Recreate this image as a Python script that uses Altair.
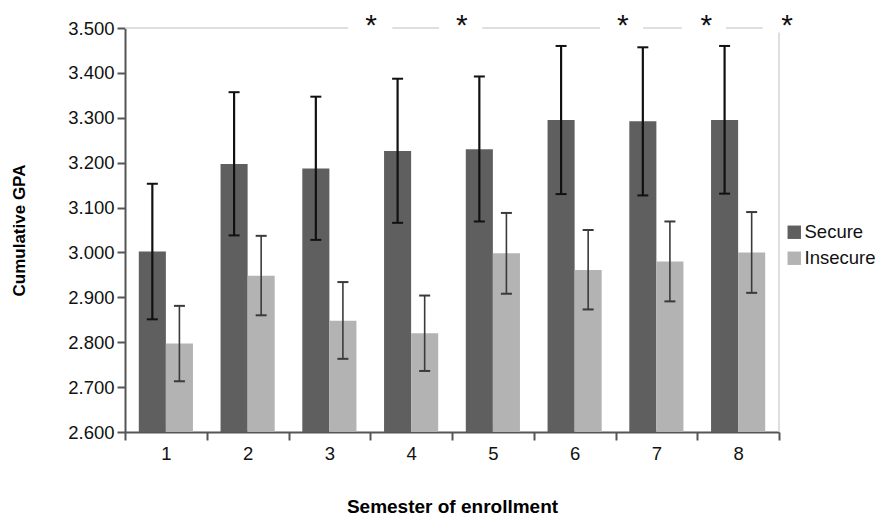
import altair as alt
import pandas as pd

semesters = ["1", "2", "3", "4", "5", "6", "7", "8"]
groups = ["Secure", "Insecure"]
secure_mean = [3.002, 3.197, 3.187, 3.226, 3.230, 3.295, 3.292, 3.295]
secure_lo = [2.851, 3.038, 3.028, 3.066, 3.069, 3.130, 3.127, 3.131]
secure_hi = [3.153, 3.357, 3.347, 3.387, 3.392, 3.460, 3.457, 3.460]
insecure_mean = [2.797, 2.948, 2.848, 2.820, 2.998, 2.961, 2.980, 3.000]
insecure_lo = [2.713, 2.860, 2.763, 2.736, 2.908, 2.873, 2.891, 2.910]
insecure_hi = [2.881, 3.037, 2.934, 2.904, 3.088, 3.050, 3.069, 3.090]

# significance markers (in semester units, 0.5 = left edge, 8.5 = right edge)
star_pos = [3.51, 4.62, 6.59, 7.61, 8.60]
line_start = [0.5, 3.77, 4.87, 6.84, 7.85]
line_end = [3.23, 4.34, 6.31, 7.31, 8.30]
edge_x = [8.5]

rows = []
for i, s in enumerate(semesters):
    rows.append(dict(semester=s, group="Secure", mean=secure_mean[i], lo=secure_lo[i], hi=secure_hi[i]))
    rows.append(dict(semester=s, group="Insecure", mean=insecure_mean[i], lo=insecure_lo[i], hi=insecure_hi[i]))
df = pd.DataFrame(rows)
stars = pd.DataFrame({"x": star_pos, "t": ["*"] * len(star_pos), "y": [3.5] * len(star_pos)})
segs = pd.DataFrame({"a": line_start, "b": line_end, "y": [3.5] * len(line_start)})
edge = pd.DataFrame({"x": edge_x, "y1": [3.49], "y2": [2.6]})

FONT = "Liberation Sans"
AXC = "#555555"

xscale = alt.Scale(domain=semesters, paddingInner=0, paddingOuter=0)
yscale = alt.Scale(domain=[2.6, 3.5], nice=False, zero=False)
offscale = alt.Scale(domain=groups, paddingInner=0, paddingOuter=0.51)
color_scale = alt.Scale(domain=groups, range=["#5f5f5f", "#b3b3b3"])

base = alt.Chart(df)

bars = base.mark_bar().encode(
    x=alt.X("semester:N", scale=xscale, sort=semesters,
            axis=alt.Axis(title="Semester of enrollment", labelAngle=0, tickBand="extent",
                          tickSize=8, tickColor=AXC, domainColor=AXC, domainWidth=2, tickWidth=2,
                          labelFontSize=18.5, labelFont=FONT, labelColor="#111", labelPadding=4,
                          titleFont=FONT, titleFontSize=19, titleFontWeight="bold",
                          titlePadding=35, titleColor="#000")),
    xOffset=alt.XOffset("group:N", scale=offscale, sort=groups),
    y=alt.Y("mean:Q", scale=yscale,
            axis=alt.Axis(title="Cumulative GPA", values=[round(2.6 + 0.1 * k, 1) for k in range(10)],
                          format=".3f", grid=False, tickSize=8, tickColor=AXC, tickWidth=2,
                          domainColor=AXC, domainWidth=2, labelFontSize=18.5, labelFont=FONT,
                          labelColor="#111", labelPadding=3, titleFont=FONT, titleFontSize=17,
                          titleFontWeight="bold", titlePadding=39, titleColor="#000")),
    y2=alt.datum(2.6),
    color=alt.Color("group:N", scale=color_scale, sort=groups,
                    legend=alt.Legend(title=None, orient="none", legendX=660, legendY=195,
                                      symbolType="square", symbolSize=180, symbolStrokeWidth=0,
                                      labelFontSize=18.5, labelFont=FONT, labelColor="#111",
                                      rowPadding=7, labelOffset=1, padding=0)),
)

layers = [bars]
for g, col, w in [("Secure", "#111111", 2.2), ("Insecure", "#3a3a3a", 1.6)]:
    sub = base.transform_filter(alt.datum.group == g)
    enc_x = dict(
        x=alt.X("semester:N", scale=xscale, sort=semesters, axis=None),
        xOffset=alt.XOffset("group:N", scale=offscale, sort=groups),
    )
    layers.append(sub.mark_rule(color=col, strokeWidth=w).encode(
        y=alt.Y("lo:Q", scale=yscale), y2="hi:Q", **enc_x))
    for f in ["lo", "hi"]:
        layers.append(sub.mark_point(shape="M-1,0H1", size=121, filled=False, color=col,
                                     strokeWidth=2, opacity=1).encode(
            y=alt.Y(f + ":Q", scale=yscale), **enc_x))

qx = alt.Scale(domain=[0.5, 8.5], nice=False, zero=False)
seg_layer = alt.Chart(segs).mark_rule(color="#d4d4d4", strokeWidth=1.5).encode(
    x=alt.X("a:Q", scale=qx, axis=None),
    x2="b:Q",
    y=alt.Y("y:Q", scale=yscale),
)
vline = alt.Chart(edge).mark_rule(color="#d4d4d4", strokeWidth=1.5).encode(
    x=alt.X("x:Q", scale=qx, axis=None),
    y=alt.Y("y1:Q", scale=yscale),
    y2="y2:Q",
)
star_layer = alt.Chart(stars).mark_text(fontSize=30, font=FONT, color="#111", baseline="alphabetic", dy=7).encode(
    x=alt.X("x:Q", scale=qx, axis=None),
    y=alt.Y("y:Q", scale=yscale),
    text="t:N",
)

chart = alt.layer(seg_layer, vline, star_layer, *layers).resolve_scale(x="independent").properties(
    width=654, height=404,
    autosize=alt.AutoSizeParams(type="none"),
    padding={"left": 117, "top": 20, "right": 100, "bottom": 86},
).configure_view(stroke=None)

chart.save("out.html", embed_options={"renderer": "svg", "actions": False})
